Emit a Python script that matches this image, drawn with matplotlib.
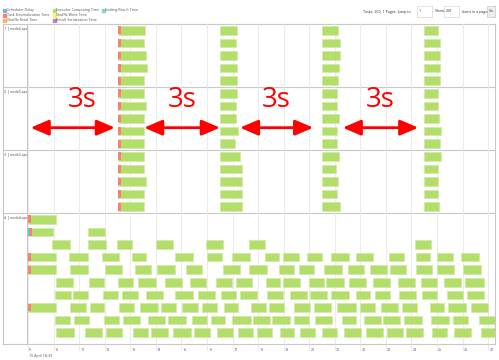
import matplotlib
matplotlib.use("Agg")
import matplotlib.pyplot as plt
from matplotlib.patches import Rectangle
from matplotlib.transforms import blended_transform_factory

plt.rcParams["font.family"] = ["Open Sans", "DejaVu Sans"]

# --------------------------------------------------
# Data (seconds after 18:39:00)
# --------------------------------------------------
node_names = ["1 | node6-spa", "2 | node5-spa", "3 | node3-spa", "4 | node4-spa"]
rows_per_node = [5, 5, 5, 10]

# nodes 1-3: four waves of 5 tasks, all starting together
wave_starts = [12.53, 16.51, 20.50, 24.49]
wave1_deser = 0.10
node6_ends = [[13.58, 13.53, 13.60, 13.67, 13.54],
              [17.16, 17.14, 17.16, 17.16, 17.16],
              [21.12, 21.21, 21.20, 21.18, 21.14],
              [25.05, 25.13, 25.12, 25.12, 25.11]]
node5_ends = [[13.53, 13.60, 13.55, 13.53, 13.53],
              [17.16, 17.14, 17.14, 17.20, 17.11],
              [21.08, 21.08, 21.16, 21.09, 21.10],
              [25.05, 25.05, 25.08, 25.15, 25.11]]
node3_ends = [[13.55, 13.53, 13.60, 13.53, 13.55],
              [17.29, 17.36, 17.36, 17.36, 17.36],
              [21.16, 21.05, 21.12, 21.09, 21.21],
              [25.15, 25.05, 25.05, 25.04, 25.09]]

# node 4: continuous stream of tasks, (start, end) per row
node4_tasks = [
    [(9.00, 10.08)],
    [(9.00, 9.99), (11.35, 12.01)],
    [(9.95, 10.63), (11.35, 12.04), (12.49, 13.08), (14.02, 14.67), (15.95, 16.62),
     (17.66, 18.27), (24.13, 24.77)],
    [(9.00, 10.08), (10.62, 11.35), (11.90, 12.56), (13.07, 13.63), (14.75, 15.44),
     (15.99, 16.59), (16.98, 17.67), (18.27, 18.82), (18.96, 19.59), (19.92, 20.50),
     (20.85, 21.56), (21.83, 22.50), (23.14, 23.72), (24.18, 24.74), (24.99, 25.62),
     (25.94, 26.66)],
    [(9.00, 10.10), (10.64, 11.34), (12.02, 12.69), (13.17, 13.80), (14.06, 14.75),
     (15.17, 15.82), (16.63, 17.29), (17.66, 18.34), (18.83, 19.40), (19.60, 20.18),
     (20.58, 21.28), (21.53, 22.16), (22.38, 23.03), (23.16, 23.79), (24.19, 24.81),
     (25.01, 25.67), (26.01, 26.71)],
    [(10.10, 10.77), (11.39, 11.97), (12.53, 13.10), (13.30, 14.02), (14.37, 15.03),
     (15.35, 15.95), (16.34, 16.99), (17.15, 17.75), (18.30, 18.86), (18.99, 19.65),
     (19.99, 20.58), (20.67, 21.35), (21.56, 22.22), (22.50, 23.17), (23.46, 24.13),
     (24.39, 24.99), (25.29, 25.94), (26.11, 26.83)],
    [(10.06, 10.67), (10.75, 11.36), (11.95, 12.51), (12.69, 13.30), (13.62, 14.29),
     (14.75, 15.47), (15.66, 16.32), (16.56, 17.14), (17.29, 17.96), (18.34, 18.98),
     (19.24, 19.93), (20.03, 20.70), (20.87, 21.55), (21.83, 22.38), (22.58, 23.16),
     (23.51, 24.18), (24.41, 24.99), (25.38, 26.01), (26.18, 26.83)],
    [(9.00, 10.08), (10.64, 11.26), (11.41, 11.96), (12.56, 13.16), (13.38, 14.07),
     (14.20, 14.78), (15.01, 15.66), (15.82, 16.39), (16.66, 17.23), (17.74, 18.31),
     (18.43, 19.00), (19.40, 20.03), (20.18, 20.84), (21.09, 21.83), (22.00, 22.59),
     (22.80, 23.46), (23.64, 24.21), (24.73, 25.29), (25.43, 26.12), (26.32, 27.00)],
    [(10.06, 10.64), (10.79, 11.40), (11.97, 12.55), (12.70, 13.38), (13.68, 14.36),
     (14.49, 15.17), (15.43, 15.99), (16.16, 16.72), (16.99, 17.71), (17.80, 18.46),
     (18.56, 19.24), (19.42, 19.99), (20.23, 20.89), (21.28, 21.84), (22.15, 22.80),
     (22.90, 23.54), (23.72, 24.41), (24.77, 25.46), (25.63, 26.20), (26.66, 27.40)],
    [(10.10, 10.79), (11.24, 11.90), (12.04, 12.69), (13.10, 13.68), (13.80, 14.48),
     (14.67, 15.38), (15.49, 16.12), (16.38, 17.01), (17.22, 17.79), (17.97, 18.56),
     (18.87, 19.42), (19.65, 20.24), (20.50, 21.10), (21.37, 22.03), (22.24, 22.89),
     (23.05, 23.66), (23.79, 24.44), (24.82, 25.38), (25.67, 26.32), (26.71, 27.40)],
]
# first task of some node4 rows: (row, scheduler delay, deserialization)
node4_first_overhead = [(0, 0.0, 0.10), (1, 0.06, 0.08), (3, 0.0, 0.10),
                        (4, 0.0, 0.10), (7, 0.0, 0.10)]

# gaps between waves, annotated as 3s
gap_arrows = [(9.10, 12.40), (13.54, 16.51), (17.29, 20.16), (21.31, 24.27)]
gap_label_x = [11.13, 15.05, 18.70, 22.77]

tick_seconds = list(range(9, 28))

legend_items = [("Scheduler Delay", "#80b1d3"), ("Task Deserialization Time", "#fb8072"),
                ("Shuffle Read Time", "#fdb462"), ("Executor Computing Time", "#b3de69"),
                ("Shuffle Write Time", "#ffed6f"), ("Result Serialization Time", "#bc80bd"),
                ("Getting Result Time", "#8dd3c7")]

GREEN = "#b3de69"
EDGE = "#d2eaa6"
RED = "#fb8072"
BLUE = "#80b1d3"
GRID = "#e8e8e8"
LINE = "#c8c8c8"

W, H = 499, 360


def fx(x):
    return x / W


def fy(y):
    return 1 - y / H


fig = plt.figure(figsize=(W / 100, H / 100), dpi=100)

# --------------------------------------------------
# Background frame with node labels
# --------------------------------------------------
n_rows = sum(rows_per_node)
ylim = (n_rows - 0.1, -0.5)

bg = fig.add_axes([fx(3), fy(344), (495 - 3) / W, (344 - 24) / H])
bg.set_xlim(0, 1)
bg.set_ylim(*ylim)
bg.set_xticks([])
bg.set_yticks([])
for s in bg.spines.values():
    s.set_color(LINE)
    s.set_linewidth(0.8)

top = 0
for name, n in zip(node_names, rows_per_node):
    bg.text(0.003, top - 0.5 + 0.25, name, fontsize=2.6, color="#444444",
            ha="left", va="top")
    top += n
    if top < n_rows:
        bg.axhline(top - 0.5, color=LINE, lw=0.8)

# --------------------------------------------------
# Timeline
# --------------------------------------------------
ax = fig.add_axes([fx(27), fy(344), (495 - 27) / W, (344 - 24) / H])
ax.patch.set_alpha(0)
ax.set_xlim(8.96, 27.27)
ax.set_ylim(*ylim)
for k in ["top", "right", "bottom"]:
    ax.spines[k].set_visible(False)
ax.spines["left"].set_color(LINE)
ax.spines["left"].set_linewidth(0.8)
ax.set_yticks([])
ax.set_xticks(tick_seconds)
ax.set_xticklabels([])
ax.tick_params(axis="x", length=5, color=GRID, width=0.6)
for t in tick_seconds:
    ax.axvline(t, color=GRID, lw=0.6, zorder=0)

trans = blended_transform_factory(ax.transData, ax.transAxes)
for t in tick_seconds:
    ax.text(t + 0.05, -0.0125, str(t), transform=trans, fontsize=2.6,
            color="#555555", ha="left", va="top")
ax.text(tick_seconds[0] + 0.03, -0.03, "15 April 18:39", transform=trans,
        fontsize=2.6, color="#555555", ha="left", va="top")

BH = 0.69


def task_bar(y, start, end):
    ax.barh(y, end - start, left=start, height=BH, color=GREEN,
            edgecolor=EDGE, linewidth=0.6, zorder=2)


row0 = 0
for ends in [node6_ends, node5_ends, node3_ends]:
    for w, (start, wave) in enumerate(zip(wave_starts, ends)):
        for r, end in enumerate(wave):
            task_bar(row0 + r, start, end)
            if w == 0:
                ax.barh(row0 + r, wave1_deser, left=start, height=BH - 0.08,
                        color=RED, linewidth=0, zorder=3)
    row0 += 5

for r, tasks in enumerate(node4_tasks):
    for start, end in tasks:
        task_bar(row0 + r, start, end)
for r, sched, deser in node4_first_overhead:
    start = node4_tasks[r][0][0]
    if sched > 0:
        ax.barh(row0 + r, sched, left=start, height=BH - 0.08, color=BLUE,
                linewidth=0, zorder=3)
    ax.barh(row0 + r, deser, left=start + sched, height=BH - 0.08, color=RED,
            linewidth=0, zorder=3)

# --------------------------------------------------
# 3s gap annotations
# --------------------------------------------------
arrow_y = 7.73
for (a, b), lx in zip(gap_arrows, gap_label_x):
    ax.annotate("", xy=(b, arrow_y), xytext=(a, arrow_y),
                arrowprops=dict(arrowstyle="<|-|>,head_length=1.1,head_width=0.47",
                                color="#ff0000", lw=2, mutation_scale=10,
                                shrinkA=0, shrinkB=0), zorder=5)
    ax.text(lx, 6.09, "3s", color="#ff0000", fontsize=20, ha="center",
            va="baseline", zorder=5)

# --------------------------------------------------
# Legend and paging controls
# --------------------------------------------------
legend_pos = [(3.3, 10), (3.3, 15), (3.3, 20), (52.7, 10), (52.7, 15), (52.7, 20),
              (101.7, 10)]
for (label, col), (x, y) in zip(legend_items, legend_pos):
    fig.patches.append(Rectangle((fx(x), fy(y + 1.5)), 3 / W, 3 / H, color=col,
                                 transform=fig.transFigure))
    fig.text(fx(x + 3.5), fy(y), label, fontsize=2.6, color="#555555",
             ha="left", va="center")

fig.text(fx(363), fy(11.5), "Tasks: 200, 1 Pages. Jump to", fontsize=2.6,
         color="#333333", ha="left", va="center")
for bx, bw, txt in [(416.7, 15, "1"), (444, 15, "200")]:
    fig.patches.append(Rectangle((fx(bx), fy(17)), bw / W, 11 / H, facecolor="white",
                                 edgecolor="#cccccc", linewidth=0.4,
                                 transform=fig.transFigure))
    fig.text(fx(bx + 2), fy(11.5), txt, fontsize=2.6, color="#333333",
             ha="left", va="center")
fig.text(fx(433), fy(11.5), ". Show", fontsize=2.6, color="#333333",
         ha="left", va="center")
fig.text(fx(461.7), fy(11.5), "items in a page.", fontsize=2.6, color="#333333",
         ha="left", va="center")
fig.patches.append(Rectangle((fx(486.7), fy(17)), 8.3 / W, 11 / H, facecolor="#eeeeee",
                             edgecolor="#bbbbbb", linewidth=0.4,
                             transform=fig.transFigure))
fig.text(fx(490.8), fy(11.5), "Go", fontsize=2.6, color="#333333",
         ha="center", va="center")

fig.savefig("out.png", dpi=100)
